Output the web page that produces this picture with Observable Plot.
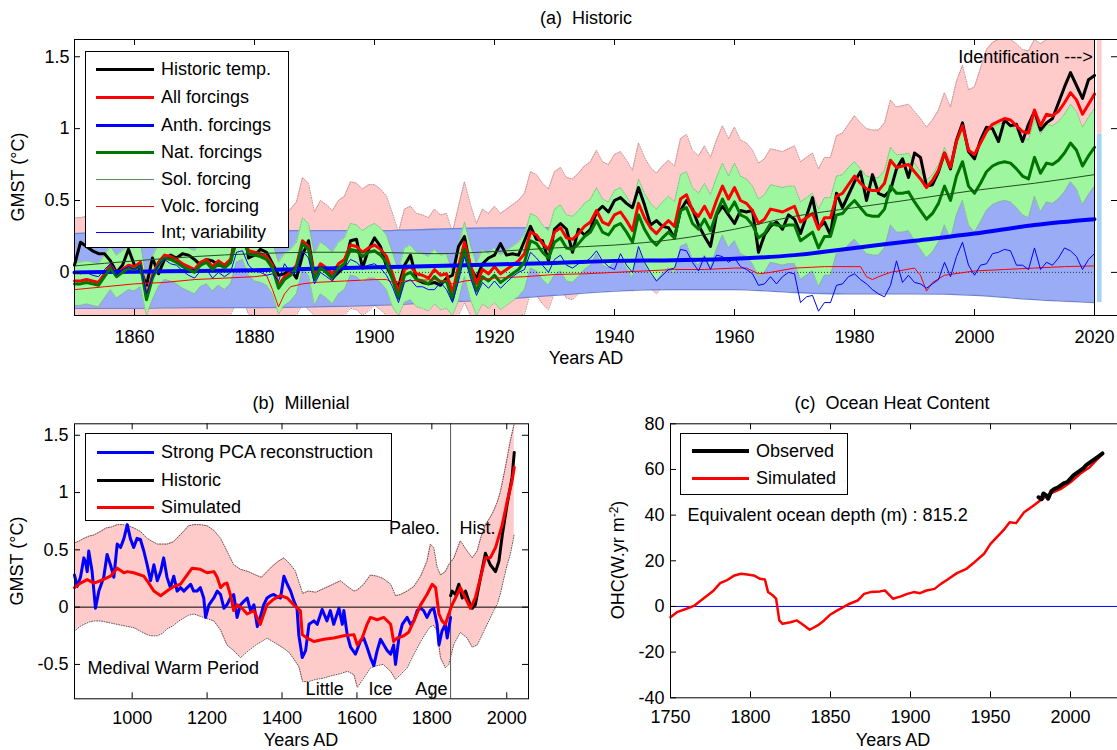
<!DOCTYPE html>
<html><head><meta charset="utf-8">
<script src="https://cdn.jsdelivr.net/npm/d3@7"></script>
<script src="https://cdn.jsdelivr.net/npm/@observablehq/plot@0.6"></script>
<style>
body{margin:0;width:1117px;height:750px;overflow:hidden;background:#fff;position:relative;font-family:"Liberation Sans",Arial,Helvetica,sans-serif;color:#000;}
.lbl{position:absolute;font-size:18px;white-space:pre;line-height:1;}
svg{position:absolute;}
</style></head><body>
<script>
// ---------------- Panel (a) Historic: annual values 1850..2020 ----------------
const firstYearA = 1850;
const hist = [
0.05,0.21,0.18,0.15,0.13,0.13,0.08,0.00,0.05,0.16,
0.05,0.02,-0.09,0.10,-0.01,0.09,0.12,0.10,0.13,0.12,
0.09,0.05,0.09,0.08,0.05,0.05,0.07,0.30,0.38,0.10,
0.12,0.16,0.14,0.06,-0.02,-0.01,0.02,-0.04,0.12,0.22,
-0.03,0.05,0.00,-0.04,0.00,0.04,0.22,0.23,0.03,0.16,
0.24,0.18,0.04,-0.04,-0.10,0.05,0.12,-0.05,-0.07,-0.08,
-0.07,-0.09,-0.04,-0.02,0.18,0.25,0.03,-0.04,0.06,0.10,
0.12,0.20,0.12,0.13,0.12,0.22,0.32,0.23,0.22,0.08,
0.30,0.34,0.30,0.14,0.30,0.26,0.30,0.42,0.46,0.42,
0.50,0.52,0.48,0.45,0.59,0.47,0.33,0.36,0.32,0.31,
0.24,0.43,0.50,0.44,0.33,0.25,0.18,0.40,0.46,0.40,
0.34,0.43,0.42,0.43,0.14,0.26,0.32,0.35,0.30,0.40,
0.37,0.27,0.39,0.52,0.31,0.35,0.26,0.55,0.45,0.54,
0.63,0.70,0.50,0.68,0.55,0.53,0.57,0.72,0.79,0.66,
0.83,0.80,0.60,0.61,0.70,0.83,0.72,0.92,1.04,0.84,
0.79,0.92,1.01,1.00,0.91,1.06,1.02,1.03,0.91,1.03,
1.12,0.99,1.04,1.07,1.18,1.29,1.39,1.30,1.21,1.34,
1.37];
const allForcings = [
-0.06,-0.06,-0.05,-0.06,-0.07,-0.01,0.05,-0.01,0.02,0.05,
0.04,0.07,-0.17,-0.02,0.07,0.12,0.11,0.09,0.06,0.04,
0.02,0.07,0.09,0.04,0.08,0.05,0.09,0.24,0.26,0.15,
0.14,0.13,0.11,0.05,-0.09,-0.03,0.00,0.05,0.22,0.18,
-0.02,0.06,0.03,-0.01,0.06,0.09,0.19,0.18,0.14,0.17,
0.19,0.16,0.11,-0.01,-0.14,0.02,0.04,-0.01,-0.02,-0.04,
0.02,-0.02,-0.01,-0.14,0.04,0.21,0.05,-0.08,0.02,-0.01,
0.04,-0.01,0.02,0.05,0.08,0.13,0.28,0.26,0.20,0.16,
0.28,0.31,0.24,0.23,0.27,0.32,0.35,0.43,0.35,0.33,
0.40,0.42,0.36,0.29,0.48,0.38,0.31,0.27,0.32,0.36,
0.32,0.51,0.54,0.43,0.39,0.46,0.38,0.50,0.60,0.51,
0.59,0.50,0.48,0.43,0.34,0.37,0.44,0.43,0.42,0.44,
0.46,0.35,0.38,0.41,0.30,0.38,0.38,0.53,0.55,0.61,
0.67,0.62,0.58,0.57,0.57,0.62,0.78,0.73,0.74,0.75,
0.70,0.65,0.59,0.64,0.71,0.83,0.73,0.91,1.02,0.85,
0.82,0.90,0.98,1.03,1.05,1.07,1.06,1.02,0.98,0.97,
1.13,1.02,1.10,1.09,1.12,1.18,1.25,1.20,1.10,1.17,
1.24];
const natForcings = [
-0.08,-0.08,-0.07,-0.08,-0.09,-0.03,0.03,-0.03,0.00,0.03,
0.02,0.05,-0.19,-0.04,0.05,0.10,0.09,0.07,0.04,0.02,
0.00,0.05,0.07,0.02,0.06,0.03,0.07,0.22,0.24,0.13,
0.12,0.11,0.09,0.03,-0.11,-0.05,-0.02,0.03,0.20,0.16,
-0.05,0.03,0.00,-0.04,0.03,0.06,0.16,0.15,0.11,0.14,
0.15,0.12,0.07,-0.05,-0.18,-0.02,0.00,-0.05,-0.06,-0.08,
-0.03,-0.07,-0.06,-0.19,-0.01,0.16,0.00,-0.13,-0.03,-0.06,
-0.02,-0.07,-0.04,-0.01,0.02,0.07,0.22,0.20,0.14,0.10,
0.21,0.24,0.17,0.16,0.20,0.25,0.28,0.36,0.28,0.26,
0.32,0.34,0.28,0.21,0.40,0.30,0.23,0.19,0.24,0.28,
0.24,0.43,0.45,0.34,0.30,0.37,0.29,0.41,0.51,0.42,
0.49,0.40,0.38,0.33,0.24,0.27,0.34,0.33,0.32,0.33,
0.33,0.22,0.25,0.28,0.17,0.25,0.25,0.40,0.41,0.46,
0.50,0.45,0.40,0.39,0.39,0.44,0.60,0.55,0.55,0.56,
0.49,0.43,0.37,0.41,0.48,0.60,0.50,0.67,0.77,0.60,
0.55,0.62,0.70,0.74,0.76,0.77,0.76,0.72,0.67,0.65,
0.80,0.69,0.76,0.75,0.78,0.83,0.90,0.85,0.74,0.81,
0.87];
const intVariability = [
0.00,-0.01,0.00,-0.02,-0.03,0.02,0.06,-0.02,0.02,0.04,
0.02,0.05,-0.15,-0.03,0.05,0.09,0.06,0.05,0.01,-0.02,
-0.04,0.01,0.02,-0.04,0.00,-0.03,0.00,0.14,0.15,0.05,
0.01,0.00,-0.02,-0.01,-0.06,0.06,0.00,0.00,0.15,0.10,
-0.08,0.00,-0.03,-0.06,0.01,0.03,0.09,0.07,0.03,0.05,
0.06,0.03,-0.02,-0.10,-0.21,-0.07,-0.05,-0.10,-0.10,-0.12,
-0.12,-0.07,-0.12,-0.21,-0.06,0.11,-0.04,-0.16,-0.07,-0.11,
-0.06,-0.11,-0.07,-0.03,0.00,0.02,0.14,0.10,0.05,0.00,
0.09,0.12,0.05,0.03,0.06,0.07,0.10,0.15,0.08,0.04,
0.02,0.13,0.05,0.00,0.18,0.07,0.00,-0.06,-0.02,0.02,
0.03,0.16,0.15,0.07,0.01,0.11,0.02,0.12,0.11,0.07,
0.10,0.04,0.02,-0.01,-0.09,-0.08,-0.03,-0.08,-0.03,0.00,
-0.01,-0.21,-0.17,-0.16,-0.27,-0.21,-0.21,-0.09,-0.08,-0.03,
-0.01,-0.05,-0.08,-0.12,-0.15,-0.17,-0.09,0.08,-0.07,-0.02,
-0.07,-0.08,-0.11,-0.08,-0.05,0.07,-0.03,0.11,0.21,0.05,
-0.02,0.05,0.06,0.13,0.14,0.16,0.15,0.05,0.05,0.02,
0.17,0.02,0.07,0.05,0.10,0.17,0.15,0.11,0.02,0.09,
0.13];
const allRangeHi = [
0.38,0.38,0.39,0.38,0.37,0.43,0.49,0.43,0.46,0.49,
0.48,0.51,0.27,0.42,0.51,0.56,0.55,0.53,0.50,0.48,
0.46,0.51,0.53,0.48,0.52,0.49,0.53,0.68,0.70,0.59,
0.58,0.57,0.55,0.49,0.35,0.41,0.44,0.49,0.66,0.62,
0.42,0.50,0.47,0.43,0.50,0.53,0.63,0.62,0.58,0.61,
0.61,0.58,0.53,0.41,0.28,0.44,0.46,0.41,0.40,0.38,
0.44,0.40,0.41,0.28,0.46,0.63,0.47,0.34,0.44,0.41,
0.46,0.41,0.44,0.47,0.50,0.55,0.70,0.68,0.62,0.58,
0.70,0.73,0.66,0.65,0.69,0.74,0.77,0.85,0.77,0.75,
0.82,0.84,0.78,0.71,0.90,0.80,0.73,0.69,0.74,0.78,
0.74,0.93,0.96,0.85,0.81,0.88,0.80,0.92,1.02,0.93,
1.01,0.92,0.90,0.85,0.76,0.79,0.86,0.85,0.84,0.86,
0.88,0.77,0.80,0.83,0.72,0.80,0.80,0.95,0.97,1.03,
1.09,1.04,1.00,0.99,0.99,1.04,1.20,1.15,1.16,1.17,
1.12,1.07,1.01,1.06,1.13,1.25,1.15,1.33,1.44,1.27,
1.29,1.42,1.55,1.60,1.62,1.64,1.63,1.59,1.55,1.54,
1.70,1.59,1.67,1.66,1.69,1.75,1.82,1.77,1.67,1.74,
1.81];
const allRangeLo = [
-0.50,-0.50,-0.49,-0.50,-0.51,-0.45,-0.39,-0.45,-0.42,-0.39,
-0.40,-0.37,-0.61,-0.46,-0.37,-0.32,-0.33,-0.35,-0.38,-0.40,
-0.42,-0.37,-0.35,-0.40,-0.36,-0.39,-0.35,-0.20,-0.18,-0.29,
-0.30,-0.31,-0.33,-0.39,-0.53,-0.47,-0.44,-0.39,-0.22,-0.26,
-0.46,-0.38,-0.41,-0.45,-0.38,-0.35,-0.25,-0.26,-0.30,-0.27,
-0.23,-0.26,-0.31,-0.43,-0.56,-0.40,-0.38,-0.43,-0.44,-0.46,
-0.40,-0.44,-0.43,-0.56,-0.38,-0.21,-0.37,-0.50,-0.40,-0.43,
-0.38,-0.43,-0.40,-0.37,-0.34,-0.29,-0.14,-0.16,-0.22,-0.26,
-0.14,-0.11,-0.18,-0.19,-0.15,-0.10,-0.07,0.01,-0.07,-0.09,
-0.02,0.00,-0.06,-0.13,0.06,-0.04,-0.11,-0.15,-0.10,-0.06,
-0.10,0.09,0.12,0.01,-0.03,0.04,-0.04,0.08,0.18,0.09,
0.17,0.08,0.06,0.01,-0.08,-0.05,0.02,0.01,0.00,0.02,
0.04,-0.07,-0.04,-0.01,-0.12,-0.04,-0.04,0.11,0.13,0.19,
0.25,0.20,0.16,0.15,0.15,0.20,0.36,0.31,0.32,0.33,
0.28,0.23,0.17,0.22,0.29,0.41,0.31,0.49,0.60,0.43,
0.35,0.38,0.41,0.46,0.48,0.50,0.49,0.45,0.41,0.40,
0.56,0.45,0.53,0.52,0.55,0.61,0.68,0.63,0.53,0.60,
0.67];
const natRangeHi = [
0.07,0.07,0.08,0.07,0.06,0.12,0.18,0.12,0.15,0.18,
0.17,0.20,-0.04,0.11,0.20,0.25,0.24,0.22,0.19,0.17,
0.15,0.20,0.22,0.17,0.21,0.18,0.22,0.37,0.39,0.28,
0.30,0.29,0.27,0.21,0.07,0.13,0.16,0.21,0.38,0.34,
0.13,0.21,0.18,0.14,0.21,0.24,0.34,0.33,0.29,0.32,
0.34,0.31,0.26,0.14,0.01,0.17,0.19,0.14,0.13,0.11,
0.16,0.12,0.13,0.00,0.18,0.35,0.19,0.06,0.16,0.13,
0.17,0.12,0.15,0.18,0.21,0.26,0.41,0.39,0.33,0.29,
0.44,0.47,0.40,0.39,0.43,0.48,0.51,0.59,0.51,0.49,
0.57,0.59,0.53,0.46,0.65,0.55,0.48,0.44,0.49,0.53,
0.49,0.68,0.70,0.59,0.55,0.62,0.54,0.66,0.76,0.67,
0.76,0.67,0.65,0.60,0.51,0.54,0.61,0.60,0.59,0.60,
0.60,0.49,0.52,0.55,0.44,0.52,0.52,0.67,0.68,0.73,
0.77,0.72,0.67,0.66,0.66,0.71,0.87,0.82,0.82,0.83,
0.76,0.70,0.64,0.68,0.75,0.87,0.77,0.94,1.04,0.87,
0.82,0.89,0.97,1.01,1.03,1.04,1.03,0.99,0.94,0.92,
1.07,0.96,1.03,1.02,1.05,1.10,1.17,1.12,1.01,1.08,
1.14];
const natRangeLo = [
-0.23,-0.23,-0.22,-0.23,-0.24,-0.18,-0.12,-0.18,-0.15,-0.12,
-0.13,-0.10,-0.34,-0.19,-0.10,-0.05,-0.06,-0.08,-0.11,-0.13,
-0.15,-0.10,-0.08,-0.13,-0.09,-0.12,-0.08,0.07,0.09,-0.02,
-0.06,-0.07,-0.09,-0.15,-0.29,-0.23,-0.20,-0.15,0.02,-0.02,
-0.23,-0.15,-0.18,-0.22,-0.15,-0.12,-0.02,-0.03,-0.07,-0.04,
-0.04,-0.07,-0.12,-0.24,-0.37,-0.21,-0.19,-0.24,-0.25,-0.27,
-0.22,-0.26,-0.25,-0.38,-0.20,-0.03,-0.19,-0.32,-0.22,-0.25,
-0.21,-0.26,-0.23,-0.20,-0.17,-0.12,0.03,0.01,-0.05,-0.09,
-0.02,0.01,-0.06,-0.07,-0.03,0.02,0.05,0.13,0.05,0.03,
0.07,0.09,0.03,-0.04,0.15,0.05,-0.02,-0.06,-0.01,0.03,
-0.01,0.18,0.20,0.09,0.05,0.12,0.04,0.16,0.26,0.17,
0.22,0.13,0.11,0.06,-0.03,0.00,0.07,0.06,0.05,0.06,
0.06,-0.05,-0.02,0.01,-0.10,-0.02,-0.02,0.13,0.14,0.19,
0.23,0.18,0.13,0.12,0.12,0.17,0.33,0.28,0.28,0.29,
0.22,0.16,0.10,0.14,0.21,0.33,0.23,0.40,0.50,0.33,
0.28,0.35,0.43,0.47,0.49,0.50,0.49,0.45,0.40,0.38,
0.53,0.42,0.49,0.48,0.51,0.56,0.63,0.58,0.47,0.54,
0.60];
// smooth components, sampled each decade
const decadeYears = [1850,1860,1870,1880,1890,1900,1910,1920,1930,1940,1950,1960,1970,1980,1990,2000,2010,2020];
const anthForcings = [0.00,0.005,0.01,0.015,0.025,0.035,0.045,0.055,0.065,0.08,0.085,0.095,0.12,0.17,0.22,0.27,0.33,0.37];
const solForcing   = [0.045,0.08,0.11,0.13,0.14,0.14,0.13,0.145,0.17,0.19,0.23,0.30,0.39,0.45,0.51,0.57,0.62,0.68];
const anthRangeHi  = [0.27,0.28,0.28,0.29,0.29,0.29,0.30,0.31,0.31,0.31,0.33,0.35,0.36,0.40,0.50,0.55,0.63,0.66];
const anthRangeLo  = [-0.25,-0.25,-0.245,-0.245,-0.24,-0.23,-0.21,-0.19,-0.16,-0.13,-0.12,-0.12,-0.14,-0.15,-0.15,-0.16,-0.19,-0.21];
const volcYears = [1850,1855,1860,1865,1870,1875,1880,1882,1883,1884,1885,1886,1888,1890,1895,1900,1902,1903,1905,1910,1912,1913,1915,1920,1925,1930,1935,1940,1945,1950,1955,1960,1962,1963,1964,1966,1970,1975,1980,1981,1982,1983,1984,1986,1990,1991,1992,1993,1995,2000,2005,2010,2015,2020];
const volcForcing = [-0.12,-0.10,-0.08,-0.07,-0.05,-0.04,-0.03,-0.02,-0.12,-0.24,-0.15,-0.10,-0.08,-0.07,-0.06,-0.05,-0.05,-0.07,-0.06,-0.05,-0.06,-0.08,-0.06,-0.04,-0.03,-0.015,-0.01,0.0,0.01,0.02,0.02,0.03,0.03,0.01,-0.01,0.0,0.03,0.04,0.04,0.04,-0.03,-0.05,-0.03,0.0,0.03,-0.02,-0.13,-0.07,-0.02,0.01,0.02,0.03,0.04,0.045];
const identLevels = [{name: "pink", lo: 0.96, hi: 1.62}, {name: "blue", lo: -0.21, hi: 0.96}];
const xTicksA = [1860,1880,1900,1920,1940,1960,1980,2000,2020];
const yTicksA = [0,0.5,1,1.5];

// ---------------- Panel (b) Millenial ----------------
const pcaYears = [846,853,862,871,875,880,884,893,902,911,924,933,942,951,960,969,978,987,995,1004,1013,1022,1031,1040,1049,1058,1067,1076,1084,1093,1102,1111,1120,1129,1138,1147,1156,1164,1173,1182,1191,1196,1205,1218,1227,1236,1245,1253,1262,1271,1280,1289,1298,1307,1316,1325,1334,1342,1351,1360,1369,1378,1387,1396,1405,1414,1423,1432,1440,1445,1449,1454,1463,1472,1485,1494,1507,1520,1529,1538,1552,1561,1565,1574,1583,1596,1609,1618,1627,1636,1645,1654,1663,1672,1681,1690,1698,1703,1712,1721,1734,1743,1752,1761,1770,1778,1787,1796,1805,1814,1819,1827,1836,1841,1850];
const pcaValues = [0.28,0.18,0.26,0.43,0.40,0.31,0.49,0.31,-0.01,0.14,0.26,0.46,0.37,0.26,0.55,0.52,0.60,0.72,0.60,0.52,0.60,0.59,0.49,0.37,0.23,0.37,0.23,0.31,0.43,0.26,0.17,0.27,0.14,0.17,0.14,0.17,0.20,0.14,0.14,0.17,0.08,-0.09,0.02,0.08,0.14,0.11,-0.01,0.02,0.08,0.11,-0.09,0.02,0.05,0.08,-0.03,0.02,-0.17,-0.09,0.02,0.08,0.10,0.11,0.09,0.08,0.27,0.20,0.14,0.05,-0.01,-0.25,-0.33,-0.44,-0.38,-0.15,-0.12,-0.15,-0.02,-0.12,-0.03,-0.15,-0.01,-0.15,-0.03,-0.24,-0.35,-0.41,-0.30,-0.27,-0.35,-0.44,-0.51,-0.38,-0.28,-0.33,-0.38,-0.41,-0.33,-0.50,-0.27,-0.15,-0.09,-0.15,-0.12,-0.03,-0.01,-0.03,-0.09,-0.03,-0.01,-0.15,-0.33,-0.21,-0.15,-0.27,-0.09];
const simYearsB = [846,862,880,898,915,942,960,978,987,1004,1031,1040,1058,1076,1093,1111,1129,1142,1160,1182,1200,1218,1227,1236,1245,1253,1262,1271,1280,1293,1307,1325,1342,1360,1378,1396,1414,1431,1449,1454,1467,1485,1512,1538,1565,1592,1601,1614,1627,1636,1654,1672,1690,1698,1707,1725,1738,1752,1770,1787,1801,1810,1819,1827,1836,1845,1854,1863,1876,1885,1894,1903,1916,1930,1943,1956,1970,1988,2001,2014,2020];
const simValuesB = [0.17,0.21,0.24,0.21,0.23,0.27,0.34,0.30,0.31,0.30,0.27,0.23,0.14,0.10,0.14,0.18,0.20,0.26,0.34,0.33,0.30,0.31,0.26,0.17,0.20,0.21,0.11,-0.03,0.02,-0.01,-0.06,-0.03,-0.15,0.02,0.07,0.10,0.08,0.02,-0.03,-0.24,-0.27,-0.30,-0.28,-0.27,-0.25,-0.24,-0.33,-0.27,-0.15,-0.09,-0.11,-0.09,-0.15,-0.30,-0.27,-0.25,-0.22,-0.12,0.02,0.11,0.20,0.17,-0.06,-0.12,-0.15,-0.06,0.02,0.08,0.17,0.11,0.05,-0.01,0.08,0.26,0.43,0.43,0.52,0.72,0.92,1.10,1.22];
const histYearsB = [1850,1854,1863,1872,1881,1890,1899,1908,1916,1930,1943,1956,1970,1979,1988,2001,2014,2020];
const histValuesB = [0.10,0.14,0.11,0.20,0.08,0.14,0.05,-0.01,0.02,0.26,0.47,0.37,0.31,0.40,0.63,0.90,1.13,1.35];
const rangeYearsB = [846,860,871,885,898,915,930,945,960,975,990,1005,1022,1040,1050,1067,1080,1093,1110,1125,1140,1150,1165,1182,1200,1218,1236,1253,1271,1289,1310,1330,1345,1360,1375,1390,1405,1420,1435,1445,1455,1470,1490,1510,1530,1556,1575,1592,1601,1618,1636,1654,1670,1690,1703,1716,1734,1752,1770,1787,1796,1805,1814,1823,1836,1845,1859,1876,1894,1908,1921,1930,1943,1955,1965,1975,1983,1992,2001,2010,2020];
const rangeHiB = [0.56,0.58,0.60,0.62,0.63,0.66,0.69,0.70,0.72,0.72,0.71,0.69,0.66,0.60,0.58,0.55,0.55,0.55,0.57,0.62,0.67,0.71,0.72,0.72,0.71,0.67,0.60,0.49,0.37,0.33,0.31,0.28,0.26,0.31,0.36,0.40,0.43,0.38,0.32,0.22,0.12,0.14,0.13,0.16,0.19,0.23,0.18,0.14,0.15,0.20,0.28,0.27,0.25,0.20,0.10,0.11,0.14,0.18,0.27,0.40,0.55,0.52,0.35,0.28,0.31,0.37,0.43,0.58,0.49,0.43,0.49,0.60,0.72,0.78,0.84,0.92,1.01,1.15,1.30,1.46,1.62];
const rangeLoB = [-0.21,-0.17,-0.15,-0.13,-0.12,-0.12,-0.13,-0.14,-0.15,-0.16,-0.17,-0.18,-0.21,-0.24,-0.25,-0.25,-0.23,-0.19,-0.16,-0.12,-0.09,-0.07,-0.06,-0.08,-0.10,-0.12,-0.20,-0.33,-0.38,-0.44,-0.38,-0.33,-0.30,-0.27,-0.30,-0.33,-0.36,-0.40,-0.47,-0.52,-0.65,-0.65,-0.63,-0.62,-0.60,-0.58,-0.56,-0.59,-0.70,-0.62,-0.53,-0.51,-0.50,-0.56,-0.63,-0.59,-0.53,-0.41,-0.30,-0.21,-0.17,-0.16,-0.21,-0.44,-0.53,-0.50,-0.32,-0.22,-0.27,-0.35,-0.33,-0.27,-0.18,-0.10,-0.03,0.03,0.12,0.25,0.37,0.47,0.64];
const xTicksB = [1000,1200,1400,1600,1800,2000];
const yTicksB = [-0.5,0,0.5,1,1.5];
const paleoHistSplit = [1850];

// ---------------- Panel (c) Ocean heat content ----------------
const ohcYears = [1750,1754,1760,1765,1769,1773,1777,1781,1785,1790,1794,1798,1802,1806,1809,1811,1814,1816,1818,1820,1825,1829,1832,1837,1842,1846,1850,1854,1858,1862,1867,1871,1875,1881,1884,1889,1894,1898,1902,1906,1910,1915,1919,1923,1929,1935,1940,1946,1950,1954,1958,1962,1966,1971,1977,1981,1987,1994,2000,2006,2012,2020];
const ohcSimulated = [-4.7,-2.5,-1.0,0.4,2.6,4.8,7.0,10.2,11.4,13.6,14.3,14.0,13.6,12.1,11.8,6.3,4.8,3.4,-6.1,-7.6,-6.9,-6.1,-7.6,-10.2,-8.3,-6.1,-3.5,-1.8,-0.3,1.2,2.6,5.5,6.3,6.6,7.0,3.4,4.4,5.5,6.3,5.8,7.0,7.7,9.9,11.7,14.6,16.5,19.4,23.1,27.4,30.4,33.3,36.9,36.5,41.3,44.2,46.4,49.3,51.5,54.4,58.1,61.0,66.8];
const obsYears = [1980,1982,1983,1985,1986,1988,1990,1992,1994,1996,1998,2000,2002,2004,2006,2008,2010,2012,2014,2016,2018,2020];
const ohcObserved = [47.8,47.0,49.5,48.5,47.2,50.5,51.5,52.0,53.0,54.0,54.5,56.0,57.5,58.5,59.5,60.5,62.0,63.0,64.0,65.0,66.0,67.0];
const xTicksC = [1750,1800,1850,1900,1950,2000];
const yTicksC = [-40,-20,0,20,40,60,80];

// ---------------- helpers ----------------
const FONT = '"Liberation Sans", Arial, Helvetica, sans-serif';
function put(node, left, top) { node.style.left = left + "px"; node.style.top = top + "px"; document.body.appendChild(node); return node; }
function label(text, cx, cy, rotate, html) {
  const d = document.createElement("div");
  d.className = "lbl";
  if (html) d.innerHTML = text; else d.textContent = text;
  d.style.transform = "translate(-50%,-50%)" + (rotate ? " rotate(-90deg)" : "");
  return put(d, cx, cy);
}
function inwardTicks(xt, yt, fw, fh, len, sides) {
  const m = [];
  if (sides.includes("b")) m.push(Plot.ruleX(xt, {x: d => d, insetTop: fh - len, stroke: "#000"}));
  if (sides.includes("t")) m.push(Plot.ruleX(xt, {x: d => d, insetBottom: fh - len, stroke: "#000"}));
  if (sides.includes("l")) m.push(Plot.ruleY(yt, {y: d => d, insetRight: fw - len, stroke: "#000"}));
  if (sides.includes("r")) m.push(Plot.ruleY(yt, {y: d => d, insetLeft: fw - len, stroke: "#000"}));
  return m;
}
function legend(left, top, w, h, entries, rowY, x1, x2, tx) {
  const box = document.createElement("div");
  box.style.cssText = `position:absolute;width:${w}px;height:${h}px;border:1px solid #000;background:#fff;box-sizing:border-box;`;
  entries.forEach((e, i) => {
    const ln = document.createElement("div");
    ln.style.cssText = `position:absolute;left:${x1}px;top:${rowY[i] - e.w / 2}px;width:${x2 - x1}px;height:${e.w}px;background:${e.c};`;
    box.appendChild(ln);
    const t = document.createElement("div");
    t.textContent = e.t;
    t.style.cssText = `position:absolute;left:${tx}px;top:${rowY[i]}px;transform:translateY(-50%);font-size:18px;line-height:1;white-space:nowrap;`;
    box.appendChild(t);
  });
  return put(box, left, top);
}
const baseStyle = {fontFamily: FONT, fontSize: "18px", background: "transparent", overflow: "visible", color: "#000"};
const fmt = d => String(d);

// ---------------- Panel (a) ----------------
const rowsA = hist.map((v, i) => ({
  year: firstYearA + i, hist: v, all: allForcings[i], nat: natForcings[i], int: intVariability[i],
  pHi: allRangeHi[i], pLo: allRangeLo[i], gHi: natRangeHi[i], gLo: natRangeLo[i]
}));
const smoothA = decadeYears.map((year, i) => ({year, anth: anthForcings[i], sol: solForcing[i], hi: anthRangeHi[i], lo: anthRangeLo[i]}));
const volcRows = volcYears.map((year, i) => ({year, v: volcForcing[i]}));

const A = {L: 74, T: 39, R: 1094, B: 315, H: 362};
const plotA = Plot.plot({
  width: A.R, height: A.H, marginLeft: A.L, marginRight: 0, marginTop: A.T, marginBottom: A.H - A.B,
  style: baseStyle,
  x: {domain: [1850, 2020], ticks: xTicksA, tickSize: 0, tickPadding: 15, tickFormat: fmt, label: null},
  y: {domain: [-0.3, 1.62], clamp: true, ticks: yTicksA, tickSize: 0, tickPadding: 5, tickFormat: fmt, label: null},
  marks: [
    Plot.areaY(rowsA, {x: "year", y1: "pLo", y2: "pHi", fill: "#ffcaca"}),
    Plot.lineY(rowsA, {x: "year", y: "pHi", stroke: "#c29494", strokeWidth: 1, strokeDasharray: "1,1.5"}),
    Plot.lineY(rowsA, {x: "year", y: "pLo", stroke: "#c29494", strokeWidth: 1, strokeDasharray: "1,1.5"}),
    Plot.areaY(smoothA, {x: "year", y1: "lo", y2: "hi", fill: "#99acf5", curve: "monotone-x"}),
    Plot.lineY(smoothA, {x: "year", y: "lo", stroke: "#7083d2", strokeWidth: 1.3, curve: "monotone-x"}),
    Plot.lineY(smoothA, {x: "year", y: "hi", stroke: "#7083d2", strokeWidth: 1.3, curve: "monotone-x"}),
    Plot.areaY(rowsA, {x: "year", y1: "gLo", y2: "gHi", fill: "#9ef79e"}),
    Plot.lineY(rowsA, {x: "year", y: "gHi", stroke: "#82bc82", strokeWidth: 1, strokeDasharray: "1,1.5"}),
    Plot.lineY(rowsA, {x: "year", y: "gLo", stroke: "#82bc82", strokeWidth: 1, strokeDasharray: "1,1.5"}),
    Plot.ruleY([0], {stroke: "#333", strokeDasharray: "1,2"}),
    Plot.lineY(rowsA, {x: "year", y: "hist", stroke: "#000", strokeWidth: 3}),
    Plot.lineY(rowsA, {x: "year", y: "all", stroke: "#ff0000", strokeWidth: 3}),
    Plot.lineY(smoothA, {x: "year", y: "anth", stroke: "#0000ff", strokeWidth: 4, curve: "monotone-x"}),
    Plot.lineY(rowsA, {x: "year", y: "nat", stroke: "#007400", strokeWidth: 3}),
    Plot.lineY(smoothA, {x: "year", y: "sol", stroke: "#1f4f1f", strokeWidth: 1, curve: "monotone-x"}),
    Plot.lineY(volcRows, {x: "year", y: "v", stroke: "#ff0000", strokeWidth: 1}),
    Plot.lineY(rowsA, {x: "year", y: "int", stroke: "#0000ff", strokeWidth: 1}),
    Plot.text([{x: 2019.7, y: 1.5, t: "Identification --->"}], {x: "x", y: "y", text: "t", textAnchor: "end", fontSize: 18}),
    Plot.frame({stroke: "#000"}),
    ...inwardTicks(xTicksA, yTicksA, A.R - A.L, A.B - A.T, 6, "btl")
  ]
});
put(plotA, 0, 0);

// identification side axis
const plotA2 = Plot.plot({
  width: 23, height: A.H, marginLeft: 0, marginRight: 0, marginTop: A.T, marginBottom: A.H - A.B,
  style: baseStyle,
  x: {domain: [0, 1], axis: null},
  y: {domain: [-0.3, 1.62], axis: null},
  marks: [
    Plot.rectY(identLevels, {x1: 0.13, x2: 0.33, y1: "lo", y2: "hi", fill: d => d.name === "pink" ? "#ffcaca" : "#a6d2fa"}),
    Plot.frame({stroke: "#000"}),
    ...inwardTicks([], yTicksA, 23, A.B - A.T, 6, "r")
  ]
});
put(plotA2, 1094, 0);

label("(a)  Historic", 586, 18);
label("Years AD", 586, 358);
label("GMST (\u00B0C)", 18, 177, true);
legend(85, 51, 204, 197, [
  {t: "Historic temp.", c: "#000", w: 3},
  {t: "All forcings", c: "#ff0000", w: 3},
  {t: "Anth. forcings", c: "#0000ff", w: 3},
  {t: "Nat. forcings", c: "#007400", w: 3},
  {t: "Sol. forcing", c: "#5f8f5f", w: 1},
  {t: "Volc. forcing", c: "#ff0000", w: 1},
  {t: "Int; variability", c: "#0000ff", w: 1}
], [17, 45, 73, 100, 127, 154, 180], 10, 68, 75);

// ---------------- Panel (b) ----------------
const pcaRows = pcaYears.map((year, i) => ({year, v: pcaValues[i]}));
const simRowsB = simYearsB.map((year, i) => ({year, v: simValuesB[i]}));
const histRowsB = histYearsB.map((year, i) => ({year, v: histValuesB[i]}));
const rangeRowsB = rangeYearsB.map((year, i) => ({year, hi: rangeHiB[i], lo: rangeLoB[i]}));
const notesStartB = [
  {x: 881, y: -0.53, t: "Medival Warm Period"},
  {x: 1874, y: 0.69, t: "Hist."},
  {x: 1463, y: -0.715, t: "Little"},
  {x: 1631, y: -0.715, t: "Ice"},
  {x: 1756, y: -0.715, t: "Age"}
];
const notesEndB = [{x: 1822, y: 0.69, t: "Paleo."}];
const B = {L: 74, T: 33.3, R: 528, B: 308.3, W: 531, H: 352};
const plotB = Plot.plot({
  width: B.W, height: B.H, marginLeft: B.L, marginRight: B.W - B.R, marginTop: B.T, marginBottom: B.H - B.B,
  style: baseStyle,
  x: {domain: [846, 2058], ticks: xTicksB, tickSize: 0, tickPadding: 12, tickFormat: fmt, label: null},
  y: {domain: [-0.8, 1.6], clamp: true, ticks: yTicksB, tickSize: 0, tickPadding: 6, tickFormat: fmt, label: null},
  marks: [
    Plot.areaY(rangeRowsB, {x: "year", y1: "lo", y2: "hi", fill: "#ffcaca"}),
    Plot.lineY(rangeRowsB, {x: "year", y: "hi", stroke: "#6a5050", strokeWidth: 1, strokeDasharray: "1,1.5"}),
    Plot.lineY(rangeRowsB, {x: "year", y: "lo", stroke: "#6a5050", strokeWidth: 1, strokeDasharray: "1,1.5"}),
    Plot.ruleY([0], {stroke: "#000", strokeWidth: 1}),
    Plot.ruleX(paleoHistSplit, {stroke: "#555", strokeWidth: 1}),
    Plot.lineY(pcaRows, {x: "year", y: "v", stroke: "#0000ff", strokeWidth: 3}),
    Plot.lineY(histRowsB, {x: "year", y: "v", stroke: "#000", strokeWidth: 3}),
    Plot.lineY(simRowsB, {x: "year", y: "v", stroke: "#ff0000", strokeWidth: 3}),
    Plot.text(notesStartB, {x: "x", y: "y", text: "t", textAnchor: "start", fontSize: 18}),
    Plot.text(notesEndB, {x: "x", y: "y", text: "t", textAnchor: "end", fontSize: 18}),
    Plot.frame({stroke: "#000"}),
    ...inwardTicks(xTicksB, yTicksB, B.R - B.L, B.B - B.T, 6, "btlr")
  ]
});
put(plotB, 0, 390);
label("(b)  Millenial", 301, 403);
label("Years AD", 301, 740);
label("GMST (\u00B0C)", 17, 561, true);
legend(85, 433, 307, 88, [
  {t: "Strong PCA reconstruction", c: "#0000ff", w: 3},
  {t: "Historic", c: "#000", w: 3},
  {t: "Simulated", c: "#ff0000", w: 3}
], [18, 46, 73], 11, 68, 75);

// ---------------- Panel (c) ----------------
const ohcRows = ohcYears.map((year, i) => ({year, v: ohcSimulated[i]}));
const obsRows = obsYears.map((year, i) => ({year, v: ohcObserved[i]}));
const C = {L: 74, T: 33.3, R: 522, B: 307.3, H: 352};
const plotC = Plot.plot({
  width: C.R, height: C.H, marginLeft: C.L, marginRight: 0, marginTop: C.T, marginBottom: C.H - C.B,
  style: baseStyle,
  x: {domain: [1750, 2030], ticks: xTicksC, tickSize: 0, tickPadding: 12, tickFormat: fmt, label: null},
  y: {domain: [-40, 80], ticks: yTicksC, tickSize: 0, tickPadding: 6, tickFormat: fmt, label: null},
  marks: [
    Plot.ruleY([0], {stroke: "#0000ff", strokeWidth: 1}),
    Plot.lineY(ohcRows, {x: "year", y: "v", stroke: "#ff0000", strokeWidth: 2.5}),
    Plot.lineY(obsRows, {x: "year", y: "v", stroke: "#000", strokeWidth: 4}),
    Plot.text([{x: 1760.6, y: 39.8, t: "Equivalent ocean depth (m) : 815.2"}], {x: "x", y: "y", text: "t", textAnchor: "start", fontSize: 18}),
    Plot.frame({stroke: "#000"}),
    ...inwardTicks(xTicksC, yTicksC, C.R - C.L, C.B - C.T, 6, "btl")
  ]
});
put(plotC, 596, 390);
label("(c)  Ocean Heat Content", 892, 403);
label("Years AD", 893, 740);
label("OHC(W.yr m<sup style=\"font-size:12px;vertical-align:6px\">-2</sup>)", 617, 560, true, true);
legend(680, 433, 168, 62, [
  {t: "Observed", c: "#000", w: 4},
  {t: "Simulated", c: "#ff0000", w: 3}
], [17, 44], 11, 68, 75);
</script>
</body></html>
